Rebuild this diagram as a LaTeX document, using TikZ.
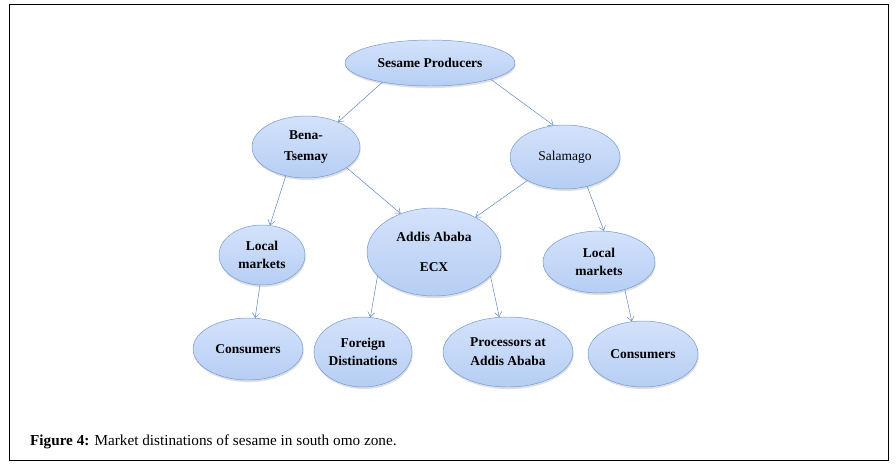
\documentclass[tikz,border=0pt]{standalone}
\usepackage{fontspec}
\setmainfont{Liberation Serif}
\usetikzlibrary{positioning, arrows.meta, shapes.geometric, shadows}
\definecolor{ellTop}{RGB}{212,226,251}
\definecolor{ellBot}{RGB}{182,206,244}
\definecolor{ellLine}{RGB}{110,150,210}
\definecolor{arrLine}{RGB}{85,130,200}

\begin{document}
\begin{tikzpicture}[font=\fontsize{11.5}{13}\selectfont\bfseries,
                    mkt/.style={ellipse, draw=ellLine, top color=ellTop, bottom color=ellBot,
                    inner sep=0pt, align=center, thin,
                    drop shadow={shadow xshift=0.6pt, shadow yshift=-1.8pt, opacity=0.25}},
                    link/.style={-{Straight Barb[length=4pt, width=6pt]}, draw=arrLine, thin}]
  \useasboundingbox (0,0) rectangle (26.88,14.1);
  \draw[line width=0.8pt] (0.27,0.3) rectangle (26.64,13.98);

  % Ellipses, top to bottom
  \node[mkt, minimum width=5.1cm, minimum height=1.38cm] (prod) at (12.9, 12.21) {Sesame Producers};
  \node[mkt, minimum width=3.24cm, minimum height=1.86cm] (bena) at (9.18, 9.69) {Bena-\\[5pt]Tsemay};
  \node[mkt, minimum width=3.3cm, minimum height=1.92cm, font=\fontsize{11.5}{13}\selectfont\mdseries] (sala) at (16.95, 9.39) {Salamago};
  \node[mkt, minimum width=4.02cm, minimum height=2.64cm] (addis) at (13.02, 6.54) {Addis Ababa\\[12pt]ECX};
  \node[mkt, minimum width=2.58cm, minimum height=1.8cm] (localL) at (7.86, 6.45) {Local\\[3pt]markets};
  \node[mkt, minimum width=3.36cm, minimum height=1.86cm] (localR) at (17.97, 6.24) {Local\\[3pt]markets};
  \node[mkt, minimum width=3.3cm, minimum height=1.86cm] (consL) at (7.44, 3.63) {Consumers};
  \node[mkt, minimum width=2.94cm, minimum height=2.1cm] (foreign) at (10.89, 3.54) {Foreign\\[3pt]Distinations};
  \node[mkt, minimum width=3.9cm, minimum height=2.1cm] (proc) at (15.24, 3.54) {Processors at\\[3pt]Addis Ababa};
  \node[mkt, minimum width=3.3cm, minimum height=1.98cm] (consR) at (19.29, 3.48) {Consumers};

  % Links
  \draw[link] (prod.202) -- (bena.38);
  \draw[link] (prod.345) -- (sala.110);
  \draw[link] (bena.333) -- (addis.131);
  \draw[link] (sala.212) -- (addis.40);
  \draw[link] (bena.235) -- (localL.75);
  \draw[link] (sala.307) -- (localR.81);
  \draw[link] (localL.266) -- (consL.77);
  \draw[link] (addis.203) -- (foreign.78);
  \draw[link] (addis.337) -- (proc.104);
  \draw[link] (localR.313) -- (consR.109);

  \node[anchor=west, font=\fontsize{13}{15}\selectfont] (cap) at (0.78, 0.84)
    {\textbf{Figure 4:} Market distinations of sesame in south omo zone.};
\end{tikzpicture}
\end{document}
